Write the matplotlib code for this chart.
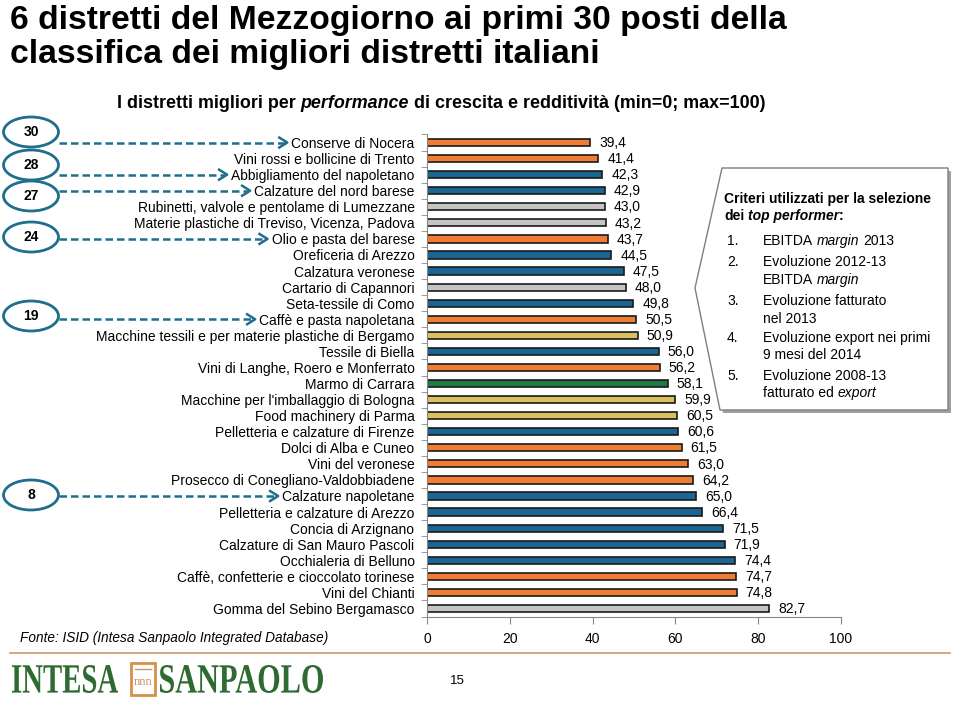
import matplotlib
matplotlib.use('Agg')
import matplotlib.pyplot as plt
from matplotlib.patches import Ellipse, Polygon, Rectangle, PathPatch
from matplotlib.textpath import TextPath
from matplotlib.font_manager import FontProperties
from matplotlib.transforms import Affine2D

plt.rcParams['font.family'] = ['Liberation Sans', 'DejaVu Sans']

# data (top to bottom, rank 30 -> 1)
districts = [
    'Conserve di Nocera', 'Vini rossi e bollicine di Trento', 'Abbigliamento del napoletano',
    'Calzature del nord barese', 'Rubinetti, valvole e pentolame di Lumezzane',
    'Materie plastiche di Treviso, Vicenza, Padova', 'Olio e pasta del barese',
    'Oreficeria di Arezzo', 'Calzatura veronese', 'Cartario di Capannori',
    'Seta-tessile di Como', 'Caffè e pasta napoletana',
    'Macchine tessili e per materie plastiche di Bergamo', 'Tessile di Biella',
    'Vini di Langhe, Roero e Monferrato', 'Marmo di Carrara',
    "Macchine per l'imballaggio di Bologna", 'Food machinery di Parma',
    'Pelletteria e calzature di Firenze', 'Dolci di Alba e Cuneo', 'Vini del veronese',
    'Prosecco di Conegliano-Valdobbiadene', 'Calzature napoletane',
    'Pelletteria e calzature di Arezzo', 'Concia di Arzignano',
    'Calzature di San Mauro Pascoli', 'Occhialeria di Belluno',
    'Caffè, confetterie e cioccolato torinese', 'Vini del Chianti',
    'Gomma del Sebino Bergamasco']
scores = [39.4, 41.4, 42.3, 42.9, 43.0, 43.2, 43.7, 44.5, 47.5, 48.0,
          49.8, 50.5, 50.9, 56.0, 56.2, 58.1, 59.9, 60.5, 60.6, 61.5,
          63.0, 64.2, 65.0, 66.4, 71.5, 71.9, 74.4, 74.7, 74.8, 82.7]
sectors = ['food', 'food', 'fashion', 'fashion', 'inter', 'inter', 'food', 'fashion', 'fashion', 'inter',
           'fashion', 'food', 'mech', 'fashion', 'food', 'build', 'mech', 'mech', 'fashion', 'food',
           'food', 'food', 'fashion', 'fashion', 'fashion', 'fashion', 'fashion', 'food', 'food', 'inter']
south_ranks = [30, 28, 27, 24, 19, 8]

sector_colors = {'food': '#F07D32', 'fashion': '#1B6592', 'inter': '#C4C4C4',
                 'mech': '#D9BF60', 'build': '#1E7A46'}
navy = '#1F6E8C'

fig = plt.figure(figsize=(9.6, 7.02), dpi=100)

# main bar chart
ax = fig.add_axes([427 / 960, 1 - 616.5 / 702, 414 / 960, 482 / 702])
rows = list(range(len(districts)))
ax.barh(rows, scores, height=0.45, color=[sector_colors[s] for s in sectors],
        edgecolor='#1a1a1a', linewidth=1.2)
for i, v in enumerate(scores):
    ax.annotate(f'{v:.1f}'.replace('.', ','), xy=(v, i), xytext=(6.5, -0.5),
                textcoords='offset points', va='center', ha='left', fontsize=10)
ax.set_xlim(0, 100)
ax.set_ylim(len(districts) - 0.5, -0.5)
ax.set_xticks(range(0, 101, 20))
ax.set_yticks(rows)
ax.set_yticklabels(districts, fontsize=10)
ax.set_yticks([r - 0.5 for r in rows] + [len(rows) - 0.5], minor=True)
ax.tick_params(axis='y', which='major', length=0, pad=9)
ax.tick_params(axis='y', which='minor', length=4, color='#868686')
ax.tick_params(axis='x', length=5, color='#868686', labelsize=10, pad=6)
for s in ['top', 'right']:
    ax.spines[s].set_visible(False)
for s in ['left', 'bottom']:
    ax.spines[s].set_color('#868686')
ax.patch.set_visible(False)

# overlay in pixel coordinates
ov = fig.add_axes([0, 0, 1, 1], zorder=5)
ov.set_xlim(0, 960)
ov.set_ylim(702, 0)
ov.axis('off')

ov.text(10, 29, '6 distretti del Mezzogiorno ai primi 30 posti della',
        fontsize=24.2, fontweight='bold', va='baseline')
ov.text(10, 63, 'classifica dei migliori distretti italiani',
        fontsize=24.2, fontweight='bold', va='baseline')


def rich(axis, x, y, parts, size, bold=False):
    w = 'bold' if bold else 'normal'
    prev = None
    for txt, ital, sp in parts:
        st = 'italic' if ital else 'normal'
        if prev is None:
            prev = axis.text(x, y, txt, fontsize=size, fontweight=w, fontstyle=st,
                             va='center', ha='left')
        else:
            prev = axis.annotate(txt, xy=(1, 0), xycoords=prev,
                                 xytext=(0.26 * size if sp else 0, 0), textcoords='offset points',
                                 fontsize=size, fontweight=w, fontstyle=st, va='bottom', ha='left')
    return prev


rich(ov, 117, 104, [('I distretti migliori per', False, False), ('performance', True, True),
                    ('di crescita e redditività (min=0; max=100)', False, True)], 12.9, bold=True)

# rank ellipses and arrows
ell_y = [132, 165, 196, 237, 316, 495]
fig.canvas.draw()
r = fig.canvas.get_renderer()
labels = ax.get_yticklabels()
inv = ov.transData.inverted()
for rank, ey in zip(south_ranks, ell_y):
    row = 30 - rank
    ov.add_patch(Ellipse((31, ey), 55, 30, fill=False, edgecolor=navy, lw=2))
    ov.text(31, ey, str(rank), ha='center', va='center', fontsize=10, fontweight='bold')
    y_disp = ax.transData.transform((0, row))[1]
    x_disp = labels[row].get_window_extent(r).x0
    xe, ye = inv.transform((x_disp, y_disp))
    xe -= 4
    ov.plot([59, xe - 2], [ye, ye], color=navy, lw=1.8, dashes=(3, 1.6))
    ov.plot([xe - 8, xe, xe - 8], [ye - 5, ye, ye + 5], color=navy, lw=1.8)

# criteria box
box = [(722, 168), (948, 168), (948, 410), (720, 410), (695, 288)]
ov.add_patch(Polygon([(x + 3, y + 3) for x, y in box], closed=True, facecolor='#A0A0A0',
                     edgecolor='none'))
ov.add_patch(Polygon(box, closed=True, facecolor='white', edgecolor='#7F7F7F', lw=1))
ov.text(724, 199, 'Criteri utilizzati per la selezione', fontsize=10, fontweight='bold', va='center')
rich(ov, 724, 216, [('dei', False, False), ('top performer', True, True), (':', False, False)],
     10, bold=True)
items = [
    ('1.', 241, [('EBITDA', False, False), ('margin', True, True), ('2013', False, True)]),
    ('2.', 262, [('Evoluzione 2012-13', False, False)]),
    (None, 280, [('EBITDA', False, False), ('margin', True, True)]),
    ('3.', 301, [('Evoluzione fatturato', False, False)]),
    (None, 319, [('nel 2013', False, False)]),
    ('4.', 338, [('Evoluzione export nei primi', False, False)]),
    (None, 355, [('9 mesi del 2014', False, False)]),
    ('5.', 376, [('Evoluzione 2008-13', False, False)]),
    (None, 393, [('fatturato ed', False, False), ('export', True, True)]),
]
for num, yy, parts in items:
    if num:
        ov.text(727, yy, num, fontsize=10, va='center')
    rich(ov, 763, yy, parts, 10)

# footer
ov.text(20, 638, 'Fonte: ISID (Intesa Sanpaolo Integrated Database)', fontsize=9.8,
        fontstyle='italic', va='center')
ov.plot([10, 950], [653, 653], color='#D0946A', lw=1.2)
ov.text(457, 681, '15', fontsize=9.5, ha='center', va='center')

green = '#2E6B30'
fp = FontProperties(family='Liberation Serif', weight='bold')


def logo_word(s, x0, x1, ybase, cap_h):
    tp = TextPath((0, 0), s, size=100, prop=fp)
    bb = tp.get_extents()
    tr = Affine2D().translate(-bb.x0, -bb.y0).scale((x1 - x0) / bb.width, -cap_h / bb.height) \
        .translate(x0, ybase) + ov.transData
    ov.add_patch(PathPatch(tp, transform=tr, facecolor=green, edgecolor='none'))


logo_word('INTESA', 12, 118, 693, 28)
logo_word('SANPAOLO', 160, 323, 693, 28)
ov.add_patch(Rectangle((131, 663), 24, 32, fill=False, edgecolor='#D4914A', lw=2))
ov.plot([135, 151], [669, 669], color='#C8946A', lw=1)
ov.text(143, 682, 'nnn', fontsize=9, color='#C8946A', ha='center', va='center',
        family='Liberation Serif')

fig.savefig('out.png', dpi=100)
